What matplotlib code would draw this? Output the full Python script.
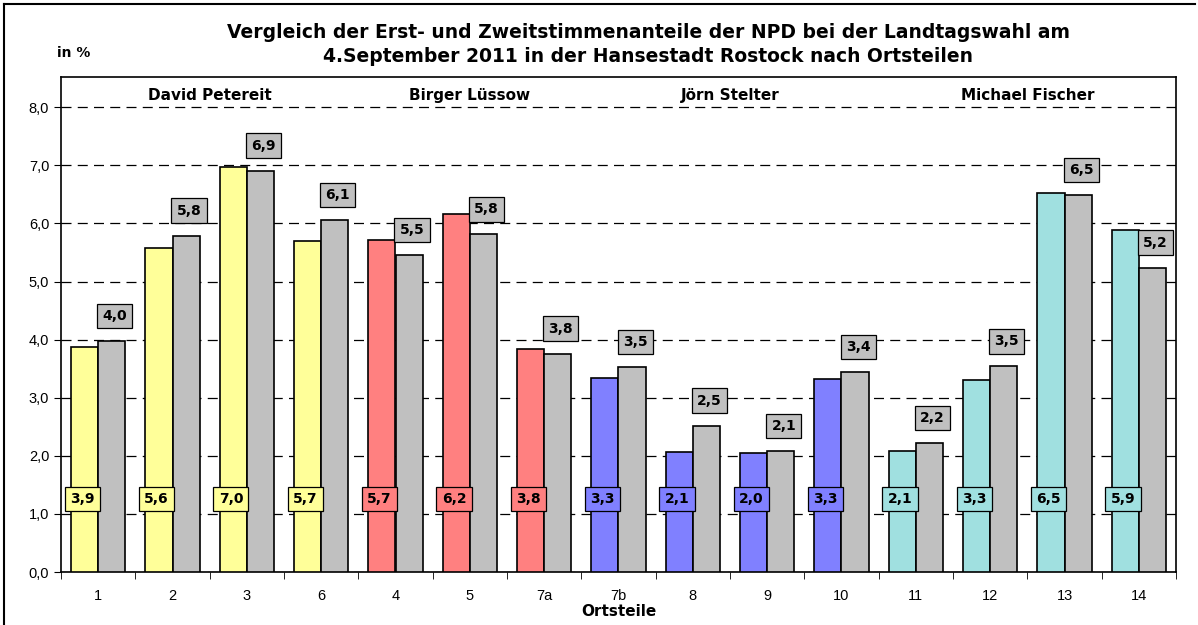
import numpy as np
import matplotlib
matplotlib.use("Agg")
import matplotlib.pyplot as plt
from matplotlib.lines import Line2D

# Ortsteile
ortsteile = ["1", "2", "3", "6", "4", "5", "7a", "7b", "8", "9", "10", "11", "12", "13", "14"]
# Erststimmen NPD (in %)
erst = [3.88, 5.58, 6.97, 5.69, 5.71, 6.17, 3.84, 3.34, 2.06, 2.04, 3.33, 2.09, 3.31, 6.53, 5.89]
# Zweitstimmen NPD (in %)
zweit = [3.98, 5.79, 6.91, 6.06, 5.46, 5.81, 3.76, 3.53, 2.52, 2.08, 3.44, 2.22, 3.54, 6.49, 5.24]
# Kandidat je Ortsteil (Index in kandidaten)
kandidat_idx = [0, 0, 0, 0, 1, 1, 1, 2, 2, 2, 2, 3, 3, 3, 3]
kandidaten = ["David Petereit", "Birger Lüssow", "Jörn Stelter", "Michael Fischer"]
farben = ["#FFFF99", "#FF8080", "#8080FF", "#A0E0E0"]

plt.rcParams['font.family'] = ['Liberation Sans', 'DejaVu Sans']
bold_font = ['DejaVu Sans']

fig = plt.figure(figsize=(11.98, 6.25), dpi=100)
ax = fig.add_axes([61/1198, 1-572/625, (1176-61)/1198, (572-77)/625])

x = np.arange(len(ortsteile))
w = 0.367
cols = [farben[i] for i in kandidat_idx]
ax.bar(x - w/2, erst, w, color=cols, edgecolor="black", linewidth=1.2, zorder=3)
ax.bar(x + w/2, zweit, w, color="#C0C0C0", edgecolor="black", linewidth=1.2, zorder=3)

def fmt(v):
    return ("%.1f" % v).replace(".", ",")

for i in range(len(x)):
    ax.text(x[i] - w/2 - 0.03, 1.26, fmt(erst[i]), ha="center", va="center",
            fontsize=10, fontweight="bold", family=bold_font, zorder=5,
            bbox=dict(boxstyle="square,pad=0.38", fc=cols[i], ec="black", lw=0.9))
    ax.text(x[i] + w/2 + 0.04, zweit[i] + 0.43, fmt(zweit[i]), ha="center", va="center",
            fontsize=10, fontweight="bold", family=bold_font, zorder=5,
            bbox=dict(boxstyle="square,pad=0.38", fc="#C0C0C0", ec="black", lw=0.9))

# Kandidatennamen ueber den Gruppen
for k, name in enumerate(kandidaten):
    pos = [x[i] for i in range(len(x)) if kandidat_idx[i] == k]
    ax.text(np.mean(pos), 8.2, name, ha="center", va="center",
            fontsize=11, fontweight="bold", family=bold_font, zorder=5)

ax.set_xlim(-0.5, len(x) - 0.5)
ax.set_ylim(0, 8.52)
ax.set_yticks(np.arange(0, 9, 1.0))
ax.set_yticklabels([fmt(v) for v in np.arange(0, 9, 1.0)], fontsize=10.5)
ax.yaxis.grid(True, color="black", linestyle=(0, (8, 5)), linewidth=0.9, zorder=0)
ax.set_xticks(x)
ax.set_xticklabels(ortsteile, fontsize=10.5)
ax.set_xticks(np.arange(-0.5, len(x), 1.0), minor=True)
ax.tick_params(axis="x", which="major", length=0, pad=12)
ax.tick_params(axis="x", which="minor", length=5, direction="out")
ax.tick_params(axis="y", length=5, direction="out")
for s in ax.spines.values():
    s.set_linewidth(1.2)
ax.set_xlabel("Ortsteile", fontsize=11, fontweight="bold", family=bold_font, labelpad=1)

fig.text(0.541, 1-33/625, "Vergleich der Erst- und Zweitstimmenanteile der NPD bei der Landtagswahl am",
         ha="center", va="center", fontsize=13.5, fontweight="bold", family=bold_font)
fig.text(0.541, 1-57/625, "4.September 2011 in der Hansestadt Rostock nach Ortsteilen",
         ha="center", va="center", fontsize=13.5, fontweight="bold", family=bold_font)
fig.text(57/1198, 1-53/625, "in %", ha="left", va="center", fontsize=10,
         fontweight="bold", family=bold_font)

# Rahmen (nur links und oben sichtbar)
fig.lines.append(Line2D([4/1198, 4/1198], [0, 1-4/625], transform=fig.transFigure, color="black", lw=1.5))
fig.lines.append(Line2D([4/1198, 1195/1198], [1-4/625, 1-4/625], transform=fig.transFigure, color="black", lw=1.5))

fig.savefig("out.png", dpi=100)
